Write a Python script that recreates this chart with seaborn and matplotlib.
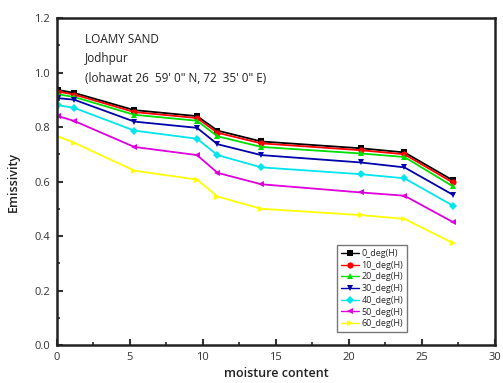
import numpy as np
import pandas as pd
import matplotlib
matplotlib.use("Agg")
import matplotlib.pyplot as plt
import seaborn as sns
from matplotlib.ticker import MultipleLocator

moisture = [0.1, 1.2, 5.3, 9.6, 11.0, 14.0, 20.8, 23.8, 27.1]
series_names = ["0_deg(H)", "10_deg(H)", "20_deg(H)", "30_deg(H)",
                "40_deg(H)", "50_deg(H)", "60_deg(H)"]
deg0 = [0.936, 0.925, 0.862, 0.840, 0.787, 0.747, 0.722, 0.707, 0.605]
deg10 = [0.930, 0.919, 0.855, 0.833, 0.779, 0.740, 0.715, 0.700, 0.597]
deg20 = [0.920, 0.910, 0.845, 0.823, 0.766, 0.727, 0.703, 0.690, 0.583]
deg30 = [0.906, 0.900, 0.820, 0.797, 0.737, 0.697, 0.670, 0.652, 0.552]
deg40 = [0.880, 0.870, 0.787, 0.757, 0.697, 0.652, 0.627, 0.612, 0.512]
deg50 = [0.840, 0.822, 0.727, 0.697, 0.632, 0.590, 0.560, 0.548, 0.452]
deg60 = [0.765, 0.742, 0.640, 0.607, 0.545, 0.500, 0.477, 0.463, 0.375]
series_values = [deg0, deg10, deg20, deg30, deg40, deg50, deg60]

colors = ["#000000", "#ff0000", "#00dd00", "#0000aa", "#00e5ee", "#dd00dd", "#ffff00"]
marker_list = ["s", "o", "^", "v", "D", "<", ">"]

rows = []
for name, vals in zip(series_names, series_values):
    for m, v in zip(moisture, vals):
        rows.append({"moisture": m, "emissivity": v, "series": name})
df = pd.DataFrame(rows)

sns.set_style("white")
plt.rcParams['font.family'] = ['Open Sans', 'DejaVu Sans']

fig = plt.figure(figsize=(5.03, 3.83), dpi=100)
ax = fig.add_axes([0.113, 0.099, 0.871, 0.854])

sns.lineplot(data=df, x="moisture", y="emissivity", hue="series", style="series",
             hue_order=series_names, style_order=series_names,
             palette=dict(zip(series_names, colors)),
             markers=dict(zip(series_names, marker_list)), dashes=False,
             linewidth=1.3, markersize=4.5, markeredgewidth=0,
             ax=ax, legend=True)

ax.set_xlim(0, 30)
ax.set_ylim(0, 1.2)
ax.xaxis.set_major_locator(MultipleLocator(5))
ax.xaxis.set_minor_locator(MultipleLocator(2.5))
ax.yaxis.set_major_locator(MultipleLocator(0.2))
ax.yaxis.set_minor_locator(MultipleLocator(0.1))
ax.xaxis.set_major_formatter(matplotlib.ticker.FuncFormatter(lambda v, p: f"{v:.0f}"))
ax.yaxis.set_major_formatter(matplotlib.ticker.FuncFormatter(lambda v, p: f"{v:.1f}"))
ax.tick_params(axis="both", which="major", direction="in", length=4, width=1.5,
               labelsize=8, colors="#333333", pad=5, top=False, right=False, left=True, bottom=True)
ax.tick_params(axis="both", which="minor", direction="in", length=2.5, width=1.2,
               top=False, right=False, left=True, bottom=True)
for sp in ax.spines.values():
    sp.set_linewidth(1.8)
    sp.set_color("#222222")

ax.set_xlabel("moisture content", fontsize=9, color="#222222", labelpad=3, fontweight="semibold")
ax.set_ylabel("Emissivity", fontsize=9, color="#222222", labelpad=10, fontweight="semibold")

for yy, txt in [(0.925, "LOAMY SAND"), (0.865, "Jodhpur"),
                (0.805, "(lohawat 26  59' 0\" N, 72  35' 0\" E)")]:
    ax.text(0.065, yy, txt, transform=ax.transAxes, fontsize=8.5, color="#222222",
            fontweight="medium")

handles, labels = ax.get_legend_handles_labels()
for h in handles:
    h.set_linewidth(1.0)
leg = ax.legend(handles, labels, loc="lower left", bbox_to_anchor=(0.63, 0.025),
                fontsize=6.5, frameon=True, fancybox=False, handlelength=2.0,
                handletextpad=0.2, labelspacing=0.3, borderpad=0.45, edgecolor="#555555")
leg.get_frame().set_linewidth(1.0)

fig.savefig("out.png", dpi=100)
